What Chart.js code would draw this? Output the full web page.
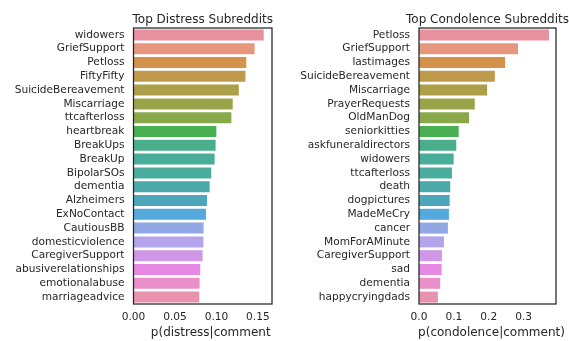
<!DOCTYPE html>
<html>
<head>
<meta charset="utf-8">
<script src="https://cdn.jsdelivr.net/npm/chart.js@4.4.0/dist/chart.umd.min.js"></script>
<style>
  body { margin: 0; background: #fff; }
  #wrap { position: relative; width: 569px; height: 341px; }
  canvas { position: absolute; top: 0; }
</style>
</head>
<body>
<div id="wrap">
  <canvas id="distChart" width="284" height="341" style="left:0"></canvas>
  <canvas id="condChart" width="285" height="341" style="left:284px"></canvas>
</div>
<script>
// data
const distLabels = ["widowers", "GriefSupport", "Petloss", "FiftyFifty", "SuicideBereavement",
  "Miscarriage", "ttcafterloss", "heartbreak", "BreakUps", "BreakUp", "BipolarSOs", "dementia",
  "Alzheimers", "ExNoContact", "CautiousBB", "domesticviolence", "CaregiverSupport",
  "abusiverelationships", "emotionalabuse", "marriageadvice"];
const distValues = [0.157, 0.146, 0.136, 0.135, 0.127, 0.1196, 0.118, 0.0999, 0.099, 0.0978,
  0.0938, 0.0918, 0.0886, 0.0874, 0.0845, 0.0843, 0.0833, 0.0805, 0.0797, 0.0793];

const condLabels = ["Petloss", "GriefSupport", "lastimages", "SuicideBereavement", "Miscarriage",
  "PrayerRequests", "OldManDog", "seniorkitties", "askfuneraldirectors", "widowers", "ttcafterloss",
  "death", "dogpictures", "MadeMeCry", "cancer", "MomForAMinute", "CaregiverSupport", "sad",
  "dementia", "happycryingdads"];
const condValues = [0.373, 0.284, 0.247, 0.2176, 0.1954, 0.160, 0.1435, 0.1138, 0.107, 0.0994,
  0.0945, 0.0896, 0.0879, 0.0859, 0.083, 0.0715, 0.0657, 0.065, 0.0608, 0.0542];

const distTicks = [0, 0.05, 0.10, 0.15];
const condTicks = [0, 0.1, 0.2, 0.3];

const barColors = ["#e8919f", "#e8977f", "#d4924b", "#be9a4a", "#ad9e48", "#9ba349", "#88a84a",
  "#48b050", "#4aad8b", "#4aad99", "#4aab9f", "#4aa9a9", "#4ca7bb", "#55aadd", "#92a8e4",
  "#b3a4ec", "#cf97e6", "#e689e3", "#e98fca", "#e893ae"];

const textColor = "#262626";
const fontFam = "'DejaVu Sans', sans-serif";

// box around the plot, title above it and the x label below
const framePlugin = {
  id: "frame",
  afterDatasetsDraw(chart, args, opts) {
    const a = chart.chartArea, ctx = chart.ctx;
    const mid = (a.left + a.right) / 2;
    ctx.save();
    ctx.strokeStyle = textColor;
    ctx.lineWidth = 1.25;
    ctx.strokeRect(a.left, a.top, a.right - a.left, a.bottom - a.top);
    ctx.fillStyle = textColor;
    ctx.textAlign = "center";
    ctx.textBaseline = "alphabetic";
    ctx.font = "12px " + fontFam;
    ctx.fillText(opts.text, mid, a.top - 5);
    ctx.font = "12px " + fontFam;
    ctx.fillText(opts.xLabel, mid + opts.dx, chart.height - 5);
    ctx.restore();
  }
};

function makeChart(id, labels, values, tickVals, decimals, xMax, title, xTitle, dx, yWidth, padRight) {
  return new Chart(document.getElementById(id), {
    type: "bar",
    data: {
      labels: labels,
      datasets: [{
        data: values,
        backgroundColor: barColors,
        borderWidth: 0,
        categoryPercentage: 0.8,
        barPercentage: 1.0
      }]
    },
    options: {
      indexAxis: "y",
      responsive: false,
      animation: false,
      layout: { padding: { top: 28, right: padRight, bottom: 0, left: 0 } },
      plugins: {
        legend: { display: false },
        tooltip: { enabled: false },
        frame: { text: title, xLabel: xTitle, dx: dx }
      },
      scales: {
        x: {
          type: "linear",
          min: 0,
          max: xMax,
          grid: { display: false, drawTicks: false },
          border: { display: false },
          afterBuildTicks: s => { s.ticks = tickVals.map(v => ({ value: v })); },
          afterFit: s => { s.height = 37; },
          ticks: {
            color: textColor,
            font: { family: fontFam, size: 10.6 },
            padding: 7,
            maxRotation: 0,
            callback: v => Number(v).toFixed(decimals)
          }
        },
        y: {
          grid: { display: false, drawTicks: false },
          border: { display: false },
          afterFit: s => { s.width = yWidth; },
          ticks: {
            color: textColor,
            font: { family: fontFam, size: 10.6 },
            padding: 9,
            autoSkip: false
          }
        }
      }
    },
    plugins: [framePlugin]
  });
}

makeChart("distChart", distLabels, distValues, distTicks, 2, 0.167,
  "Top Distress Subreddits", "p(distress|comment", 8, 133.5, 12);
makeChart("condChart", condLabels, condValues, condTicks, 1, 0.393,
  "Top Condolence Subreddits", "p(condolence|comment)", 4, 135, 13);
</script>
</body>
</html>
